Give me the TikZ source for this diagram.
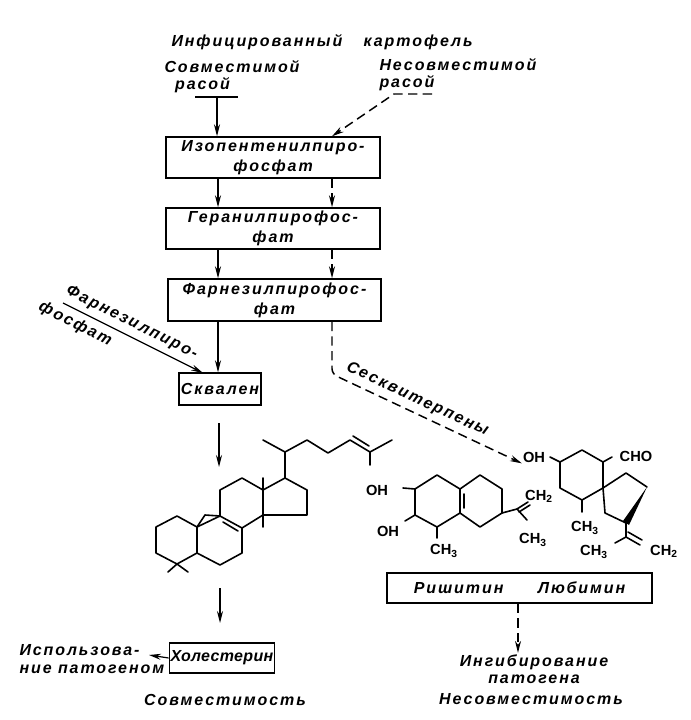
\documentclass[tikz,border=0pt]{standalone}
\usepackage{fontspec}
\setmainfont{Liberation Sans}
\newfontfamily\handfont[LetterSpace=12]{Liberation Sans}
\newfontfamily\handtight[LetterSpace=2]{Liberation Sans}
\newfontfamily\chemfont{Liberation Sans}
\usetikzlibrary{arrows.meta}
\newcommand{\hand}{\handfont\bfseries\itshape\fontsize{12}{13}\selectfont}
\newcommand{\handbox}{\handfont\bfseries\itshape\fontsize{12}{15}\selectfont}
\newcommand{\chemf}{\chemfont\bfseries\fontsize{11}{12}\selectfont}

\tikzset{every picture/.style={line width=0.75pt}}
\tikzset{
  lbl/.style={font=\hand, inner sep=0.75pt},
  pbox/.style={draw, line width=1.1pt, font=\handbox, align=center, inner sep=1pt},
  arr/.style={line width=0.9pt, -{Stealth[length=9pt,width=4.5pt]}},
  darr/.style={arr, line width=1.1pt, dash pattern=on 7pt off 4pt},
  bond/.style={line width=1.2pt, line join=round, line cap=round},
  chem/.style={font=\chemf, inner sep=0.5pt}
}

\begin{document}
\begin{tikzpicture}[x=0.75pt,y=0.75pt,yscale=-1,xscale=1]
\useasboundingbox (0,0) rectangle (691,720);

% columns of the two pathways
\coordinate (colL) at (218,0);
\coordinate (colR) at (332,0);
\coordinate (colI) at (518,0);

%Text Node: heading and the two races
\node[lbl] (head) at (322,42) {Инфицированный\hspace{16pt}картофель};
\node[lbl, anchor=west, align=left] (comp) at (163,77) {Совместимой\\\hspace*{8pt}расой};
\node[lbl, anchor=west, align=left] (incomp) at (378,75) {Несовместимой\\расой};

%Shapes: boxes
\node[pbox, minimum width=160.5pt, minimum height=30.75pt] (ipp) at (273,157.5) {Изопентенилпиро-\\фосфат};
\node[pbox, minimum width=160.5pt, minimum height=30.75pt] (gpp) at (273,228.5) {Геранилпирофос-\\фат};
\node[pbox, minimum width=160pt, minimum height=31.5pt] (fpp) at (274.5,300) {Фарнезилпирофос-\\фат};
\node[pbox, minimum width=61.5pt, minimum height=24pt] (sq) at (220,389) {Сквален};
\node[pbox, minimum width=75pt, minimum height=22.5pt, font=\handtight\bfseries\itshape\fontsize{12}{13}\selectfont] (chol) at (222,658) {Холестерин};
\node[pbox, minimum width=198.75pt, minimum height=22.5pt] (rl) at (519.5,588) {Ришитин\hspace{26pt}Любимин};

%Text Node: results
\node[lbl, anchor=west, align=left] (use) at (18,659) {Использова-\\ние патогеном};
\node[lbl, align=center] (inh) at (534,669) {Ингибирование\\патогена};
\node[lbl] (compat) at (225,700) {Совместимость};
\node[lbl] (incompat) at (531,699) {Несовместимость};

%Connectors: top
\coordinate (tb) at (217,97);
\coordinate (ic) at (432,94);
\draw[line width=1.1pt] (195,97) -- (238,97);
\draw[arr] (tb) -- (ipp.north -| tb);
\draw[darr] (ic) -- (394,94) -- (ipp.north -| colR);

%Connectors: between boxes
\draw[arr] (ipp.south -| colL) -- (gpp.north -| colL);
\draw[darr] (ipp.south -| colR) -- (gpp.north -| colR);
\draw[arr] (gpp.south -| colL) -- (fpp.north -| colL);
\draw[darr] (gpp.south -| colR) -- (fpp.north -| colR);
\draw[arr] (fpp.south -| colL) -- (sq.north -| colL);

%Connector: farnesyl pyrophosphate from outside
\coordinate (fin) at (63,303);
\coordinate (fend) at (203,373);
\draw[arr] (fin) -- node[lbl, rotate=-26.6, anchor=south, inner sep=4pt, pos=0.45] {Фарнезилпиро-} node[lbl, rotate=-26.6, anchor=north, inner sep=4pt, pos=0.13] {фосфат} (fend);

%Connectors: down to the products
\coordinate (st) at (219,423);
\coordinate (sb) at (219,467);
\draw[arr] (st) -- (sb);
\coordinate (ct) at (220,588);
\coordinate (cb) at (220,623);
\draw[arr] (ct) -- (cb);
\coordinate (ut) at (149,655);
\draw[arr] (chol.west) -- (ut);
\draw[darr] (rl.south -| colI) -- (inh.north -| colI);

%Chemistry: steroid
\draw[bond] (156,527) -- (177,516) -- (197,527) -- (197,553) -- (177,564) -- (156,553) -- cycle;
\draw[bond] (168,572) -- (177,564) -- (188,572);
\draw[bond] (197,553) -- (220,565) -- (242,553) -- (242,528) -- (220,516) -- (197,527);
\draw[bond] (197,527) -- (205,515) -- (220,516);
\draw[bond] (223,522) -- (238,531);
\draw[bond] (220,516) -- (220,490) -- (242,478) -- (263,490) -- (263,515) -- (242,528);
\draw[bond] (263,490) -- (285,478) -- (307,490) -- (307,515) -- (263,515);
\draw[bond] (263,478) -- (263,490);
\draw[bond] (263,515) -- (263,527);
\draw[bond] (285,478) -- (285,452);
\draw[bond] (263,440) -- (285,452) -- (307,440) -- (328,453) -- (350,440) -- (370,452) -- (392,440);
\draw[bond] (353,436) -- (369,446);
\draw[bond] (370,452) -- (370,465);

%Chemistry: rishitin
\draw[bond] (415,489) -- (437,475) -- (460,489) -- (460,513) -- (437,527) -- (415,515) -- cycle;
\draw[bond] (460,489) -- (480,475) -- (502,489) -- (502,513) -- (480,527) -- (460,513);
\draw[bond] (464,494) -- (464,508);
\draw[bond] (403,488) -- (415,489);
\draw[bond] (405,521) -- (415,515);
\draw[bond] (437,527) -- (437,538);
\draw[bond] (502,513) -- (517,509) -- (528,502);
\draw[bond] (519,512) -- (530,505);
\draw[bond] (517,509) -- (527,520);
\node[chem] (rOHa) at (377,490) {OH};
\node[chem] (rOHb) at (388,531) {OH};
\node[chem] (rMe) at (444,551) {CH\textsubscript{3}};
\node[chem] (rCH) at (539,496) {CH\textsubscript{2}};
\node[chem] (rMeb) at (533,540) {CH\textsubscript{3}};

%Chemistry: lubimin
\draw[bond] (560,462) -- (582,450) -- (603,462) -- (603,488) -- (582,500) -- (560,488) -- cycle;
\draw[bond] (550,457) -- (560,462);
\draw[bond] (603,462) -- (612,457);
\draw[bond] (582,500) -- (582,512);
\draw[bond] (603,488) -- (626,473) -- (647,487);
\draw[bond] (626,523) -- (605,513) -- (603,488);
\fill (647,487) -- (623,521) -- (629,525) -- cycle;
\draw[bond] (626,523) -- (626,537) -- (615,543);
\draw[bond] (626,537) -- (640,545);
\draw[bond] (628,532) -- (642,540);
\node[chem] (lOH) at (534,457) {OH};
\node[chem] (lCHO) at (636,456) {CHO};
\node[chem] (lMe) at (585,528) {CH\textsubscript{3}};
\node[chem] (lMeb) at (594,552) {CH\textsubscript{3}};
\node[chem] (lCH) at (664,551) {CH\textsubscript{2}};

%Connector: sesquiterpenes
\draw[darr, rounded corners=4pt] (fpp.south -| colR) -- (332,374) -- node[lbl, rotate=-25, anchor=south, inner sep=4pt, pos=0.42] {Сесквитерпены} (lOH.south west);

\end{tikzpicture}
\end{document}
